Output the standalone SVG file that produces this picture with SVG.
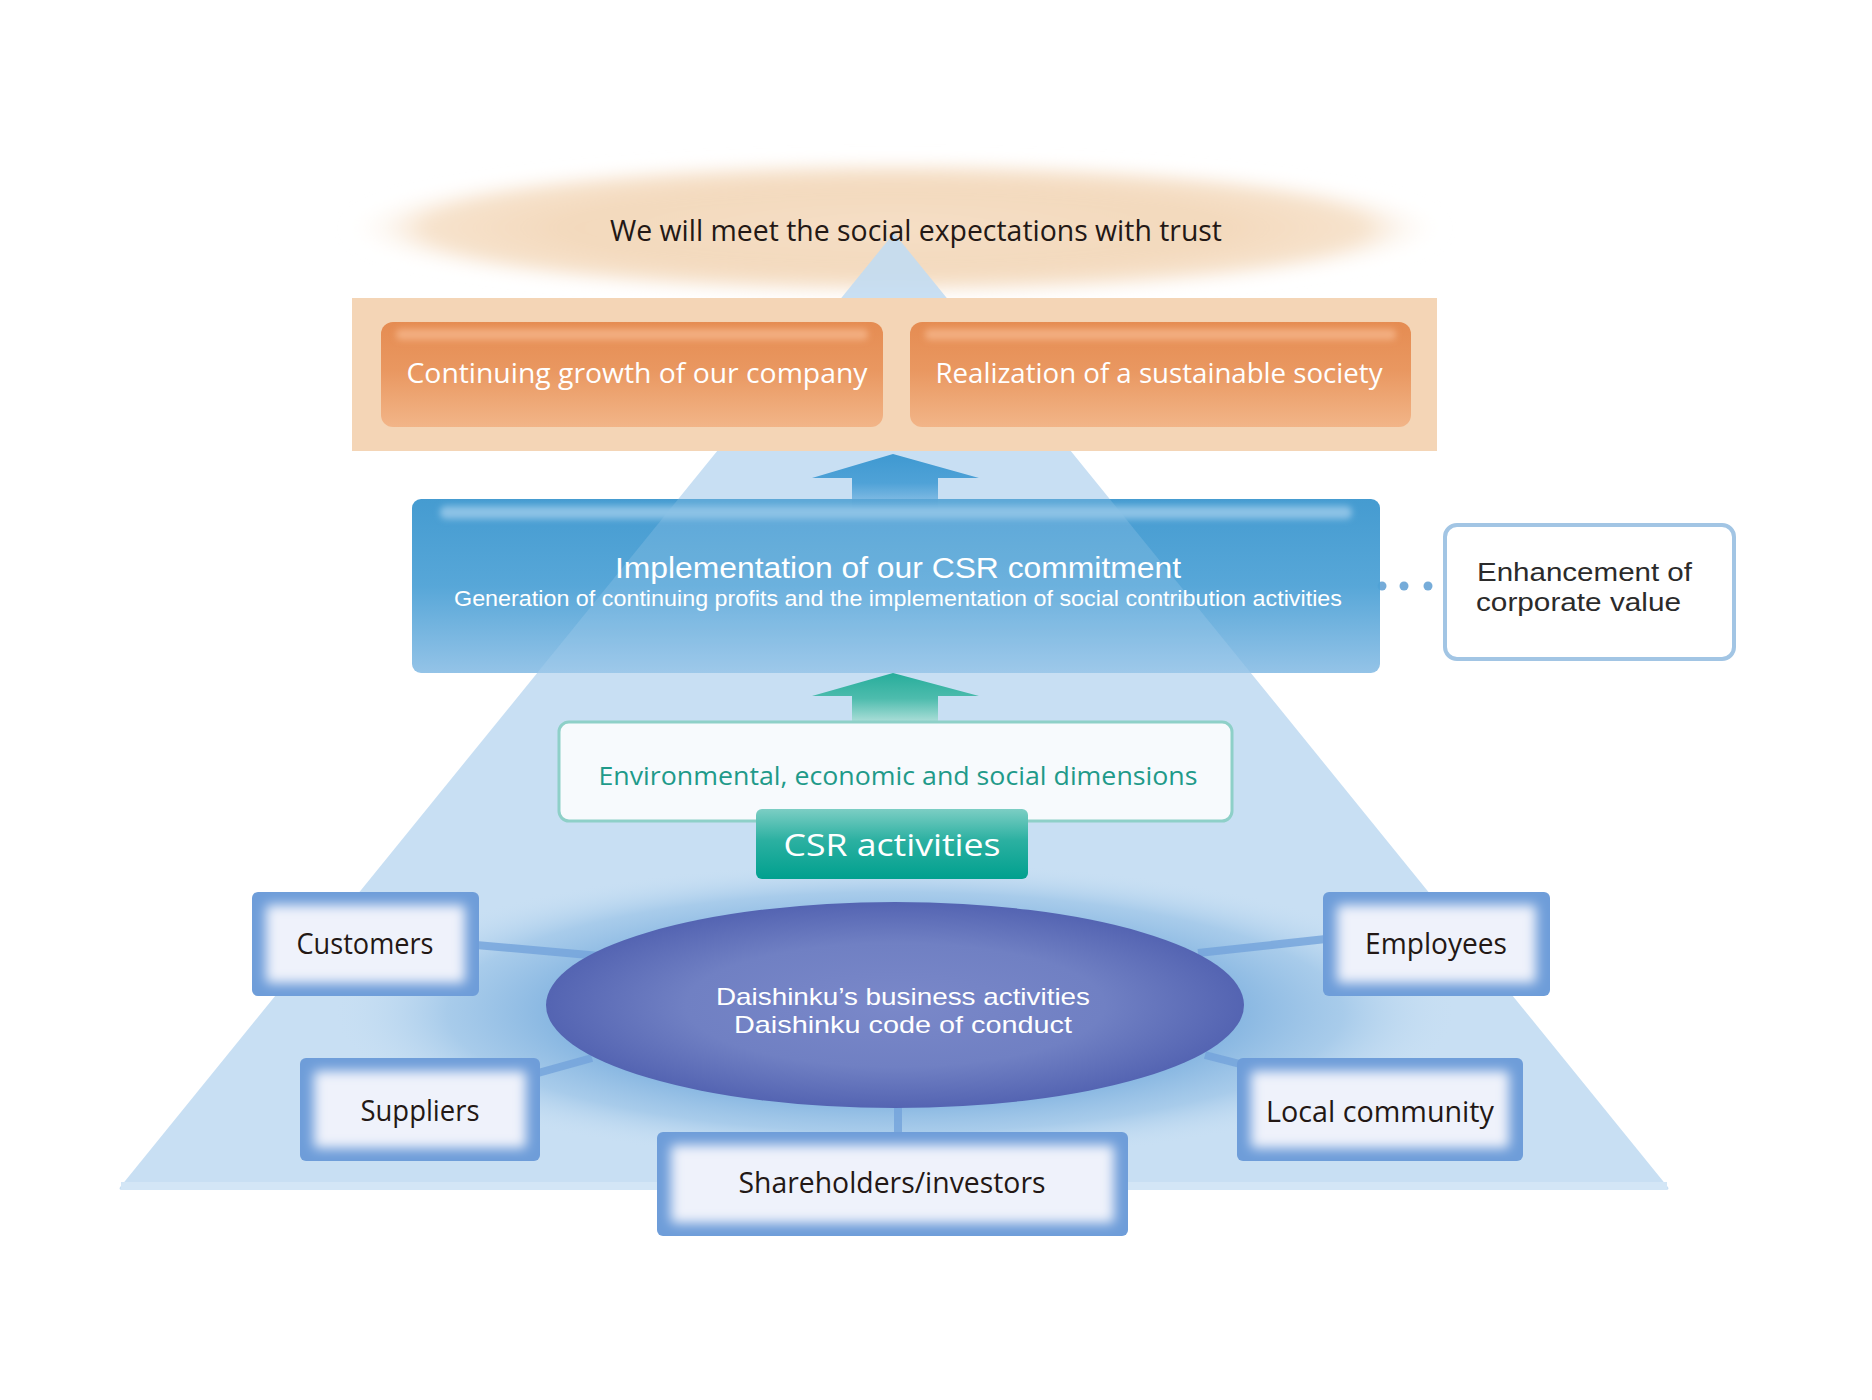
<svg xmlns="http://www.w3.org/2000/svg" width="1872" height="1400" viewBox="0 0 1872 1400">
<defs>
<style>
text{font-family:"Open Sans","Noto Sans","Liberation Sans",sans-serif;}
.tight{font-family:"Liberation Sans","Open Sans",sans-serif;}
.w{fill:#ffffff;}
.dk{fill:#231815;}
.stk-text{font-size:29px;fill:#231815;text-anchor:middle;}
</style>
<radialGradient id="gTop" cx="0.5" cy="0.5" r="0.5">
<stop offset="0" stop-color="#f5dfc6"/>
<stop offset="0.6" stop-color="#f3d9bd"/>
<stop offset="0.85" stop-color="#f5ddc3" stop-opacity="0.85"/>
<stop offset="1" stop-color="#ffffff" stop-opacity="0"/>
</radialGradient>
<linearGradient id="gOrange" x1="0" y1="0" x2="0" y2="1">
<stop offset="0" stop-color="#e58c52"/>
<stop offset="0.45" stop-color="#e99760"/>
<stop offset="1" stop-color="#f2b588"/>
</linearGradient>
<linearGradient id="gBlue" x1="0" y1="0" x2="0" y2="1">
<stop offset="0" stop-color="#3b96ce"/>
<stop offset="0.5" stop-color="#4ea2d6"/>
<stop offset="1" stop-color="#8ec0e6"/>
</linearGradient>
<linearGradient id="gArrowB" x1="0" y1="0" x2="0" y2="1">
<stop offset="0" stop-color="#3f99d1"/>
<stop offset="0.5" stop-color="#4fa2d7"/>
<stop offset="1" stop-color="#9dc9eb"/>
</linearGradient>
<linearGradient id="gArrowT" x1="0" y1="0" x2="0" y2="1">
<stop offset="0" stop-color="#27ad9b"/>
<stop offset="0.5" stop-color="#4dbcad"/>
<stop offset="1" stop-color="#b4e1dc"/>
</linearGradient>
<linearGradient id="gCSR" x1="0" y1="0" x2="0" y2="1">
<stop offset="0" stop-color="#7ccec4"/>
<stop offset="0.45" stop-color="#2bb0a1"/>
<stop offset="1" stop-color="#00a08e"/>
</linearGradient>
<radialGradient id="gGlow" cx="0.5" cy="0.5" r="0.5">
<stop offset="0" stop-color="#5e98d4" stop-opacity="0.95"/>
<stop offset="0.55" stop-color="#6ea6da" stop-opacity="0.85"/>
<stop offset="0.8" stop-color="#88b8e2" stop-opacity="0.5"/>
<stop offset="1" stop-color="#c2dcf2" stop-opacity="0"/>
</radialGradient>
<radialGradient id="gEll" cx="0.5" cy="0.5" r="0.5">
<stop offset="0" stop-color="#7a88c9"/>
<stop offset="0.6" stop-color="#7080c3"/>
<stop offset="1" stop-color="#5464b2"/>
</radialGradient>
<filter id="blur6" x="-20%" y="-30%" width="140%" height="160%"><feGaussianBlur stdDeviation="6"/></filter>
<filter id="blur8" x="-20%" y="-40%" width="140%" height="180%"><feGaussianBlur stdDeviation="8"/></filter>
<filter id="blur3" x="-10%" y="-100%" width="120%" height="300%"><feGaussianBlur stdDeviation="3"/></filter>
<clipPath id="clipBlueBox"><rect x="412" y="499" width="968" height="174" rx="9"/></clipPath>
</defs>

<rect x="0" y="0" width="1872" height="1400" fill="#ffffff"/>

<!-- top goal ellipse -->
<g id="goal">
<ellipse cx="895" cy="228" rx="552" ry="68" fill="url(#gTop)" filter="url(#blur8)"/>
</g>

<!-- pyramid -->
<g id="pyramid">
<path d="M894,233 L1667,1186 Q1671,1190 1664,1190 L124,1190 Q117,1190 121,1186 Z" fill="#c2dcf2" fill-opacity="0.9"/>
<rect x="121" y="1182" width="1546" height="8" fill="#d3e6f6"/>
</g>

<text x="916" y="241" font-size="29" class="dk" text-anchor="middle" textLength="612" lengthAdjust="spacingAndGlyphs">We will meet the social expectations with trust</text>

<!-- orange band -->
<g id="outcomes">
<rect x="352" y="298" width="1085" height="153" fill="#f4d5b6"/>
</g>
<g id="growth">
<rect x="381" y="322" width="502" height="105" rx="12" fill="url(#gOrange)"/>
<rect x="396" y="329" width="472" height="11" rx="5" fill="#f3ae80" filter="url(#blur3)"/>
<text x="637" y="383" font-size="28" class="w" text-anchor="middle" textLength="461" lengthAdjust="spacingAndGlyphs">Continuing growth of our company</text>
</g>
<g id="society">
<rect x="910" y="322" width="501" height="105" rx="12" fill="url(#gOrange)"/>
<rect x="925" y="329" width="471" height="11" rx="5" fill="#f3ae80" filter="url(#blur3)"/>
<text x="1159" y="383" font-size="28" class="w" text-anchor="middle" textLength="447" lengthAdjust="spacingAndGlyphs">Realization of a sustainable society</text>
</g>

<!-- connectors -->
<g id="connectors">
<path d="M812,478 L893,454 L979,478 L938,478 L938,512 L852,512 L852,478 Z" fill="url(#gArrowB)"/>
<path d="M812,696 L893,673 L979,696 L938,696 L938,724 L852,724 L852,696 Z" fill="url(#gArrowT)"/>
<g fill="#76acd9">
<circle cx="1382" cy="586" r="4.5"/>
<circle cx="1404" cy="586" r="4.5"/>
<circle cx="1428" cy="586" r="4.5"/>
</g>
</g>

<!-- CSR commitment box -->
<g id="commitment">
<rect x="412" y="499" width="968" height="174" rx="9" fill="url(#gBlue)" fill-opacity="0.95"/>
<path d="M894,233 L1667,1186 L121,1186 Z" fill="#d6e9f8" fill-opacity="0.18" clip-path="url(#clipBlueBox)"/>
<rect x="440" y="506" width="912" height="13" rx="6" fill="#8cc2e6" filter="url(#blur3)"/>
<text x="898" y="578" font-size="30" class="w tight" text-anchor="middle" textLength="566" lengthAdjust="spacingAndGlyphs">Implementation of our CSR commitment</text>
<text x="898" y="606" font-size="22" class="w tight" text-anchor="middle" textLength="888" lengthAdjust="spacingAndGlyphs">Generation of continuing profits and the implementation of social contribution activities</text>
</g>

<!-- Enhancement -->
<g id="enhancement">
<rect x="1445" y="525" width="289" height="134" rx="12" fill="#ffffff" stroke="#a2c5e4" stroke-width="4"/>
<text x="1477" y="581" font-size="26" class="tight" fill="#2b2b2b" textLength="215" lengthAdjust="spacingAndGlyphs">Enhancement of</text>
<text x="1476" y="611" font-size="26" class="tight" fill="#2b2b2b" textLength="205" lengthAdjust="spacingAndGlyphs">corporate value</text>
</g>

<!-- glow -->
<ellipse cx="895" cy="1012" rx="560" ry="150" fill="url(#gGlow)"/>

<!-- Environmental dims -->
<g id="dimensions">
<rect x="559" y="722" width="673" height="99" rx="10" fill="#f7fafd" stroke="#8ed0c8" stroke-width="3"/>
<text x="898" y="785" font-size="25" fill="#1f9a8a" text-anchor="middle" textLength="599" lengthAdjust="spacingAndGlyphs">Environmental, economic and social dimensions</text>
</g>

<!-- CSR activities -->
<g id="csr-activities">
<rect x="756" y="809" width="272" height="70" rx="6" fill="url(#gCSR)"/>
<text x="892" y="856" font-size="31" class="w" text-anchor="middle" textLength="217" lengthAdjust="spacingAndGlyphs">CSR activities</text>
</g>

<!-- stakeholder links -->
<g id="links" stroke="#73a3db" stroke-width="8" stroke-opacity="0.8" fill="none">
<line x1="476" y1="945" x2="600" y2="956"/>
<line x1="538" y1="1073" x2="592" y2="1058"/>
<line x1="1198" y1="953" x2="1326" y2="939"/>
<line x1="1205" y1="1055" x2="1240" y2="1064"/>
<line x1="898" y1="1100" x2="898" y2="1135"/>
</g>

<!-- central ellipse -->
<g id="business">
<ellipse cx="895" cy="1005" rx="349" ry="103" fill="url(#gEll)"/>
<text x="903" y="1005" font-size="24" class="w tight" text-anchor="middle" textLength="374" lengthAdjust="spacingAndGlyphs">Daishinku’s business activities</text>
<text x="903" y="1033" font-size="24" class="w tight" text-anchor="middle" textLength="338" lengthAdjust="spacingAndGlyphs">Daishinku code of conduct</text>
</g>

<!-- stakeholders -->
<g id="customers">
<rect x="252" y="892" width="227" height="104" rx="6" fill="#6e9dd9"/>
<rect x="266" y="905" width="199" height="78" rx="4" fill="#eff2fb" filter="url(#blur6)"/>
<text x="365" y="954" class="stk-text" textLength="137" lengthAdjust="spacingAndGlyphs">Customers</text>
</g>
<g id="employees">
<rect x="1323" y="892" width="227" height="104" rx="6" fill="#6e9dd9"/>
<rect x="1337" y="905" width="199" height="78" rx="4" fill="#eff2fb" filter="url(#blur6)"/>
<text x="1436" y="954" class="stk-text" textLength="142" lengthAdjust="spacingAndGlyphs">Employees</text>
</g>
<g id="suppliers">
<rect x="300" y="1058" width="240" height="103" rx="6" fill="#6e9dd9"/>
<rect x="314" y="1071" width="212" height="77" rx="4" fill="#eff2fb" filter="url(#blur6)"/>
<text x="420" y="1121" class="stk-text" textLength="119" lengthAdjust="spacingAndGlyphs">Suppliers</text>
</g>
<g id="local-community">
<rect x="1237" y="1058" width="286" height="103" rx="6" fill="#6e9dd9"/>
<rect x="1251" y="1071" width="258" height="77" rx="4" fill="#eff2fb" filter="url(#blur6)"/>
<text x="1380" y="1122" class="stk-text" textLength="228" lengthAdjust="spacingAndGlyphs">Local community</text>
</g>
<g id="shareholders">
<rect x="657" y="1132" width="471" height="104" rx="6" fill="#6e9dd9"/>
<rect x="671" y="1145" width="443" height="78" rx="4" fill="#eff2fb" filter="url(#blur6)"/>
<text x="892" y="1193" class="stk-text" textLength="307" lengthAdjust="spacingAndGlyphs">Shareholders/investors</text>
</g>
</svg>
